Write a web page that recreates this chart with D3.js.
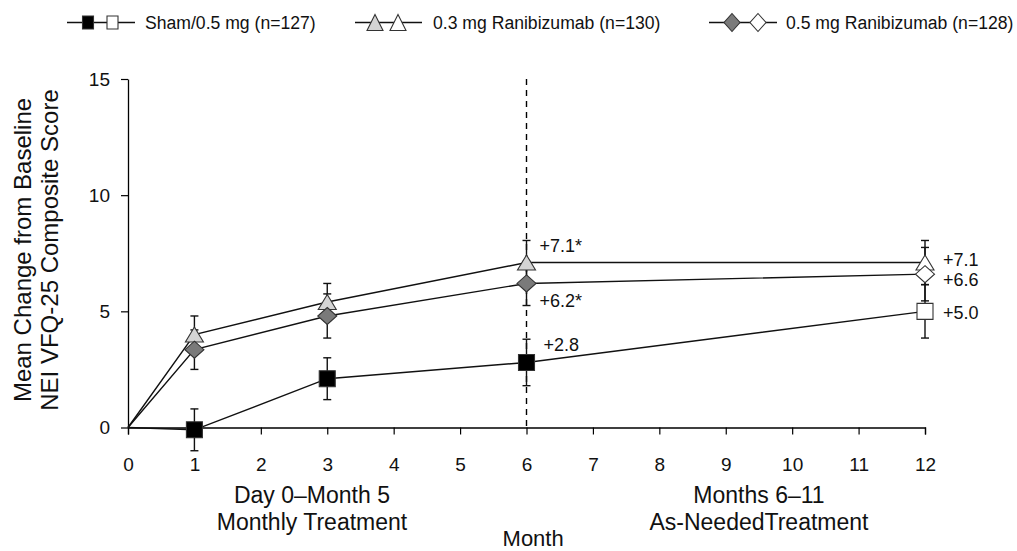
<!DOCTYPE html>
<html>
<head>
<meta charset="utf-8">
<script src="https://cdn.jsdelivr.net/npm/d3@7/dist/d3.min.js"></script>
<style>
  html, body { margin: 0; padding: 0; background: #fff; }
  svg { display: block; font-family: "Liberation Sans", Arial, sans-serif; }
</style>
</head>
<body>
<svg id="chart" width="1017" height="551"></svg>
<script>
// ---------------- data ----------------
const months = [0, 1, 3, 6, 12];
const xTicks = [0, 1, 2, 3, 4, 5, 6, 7, 8, 9, 10, 11, 12];
const yTicks = [0, 5, 10, 15];

const shamMean = [0, -0.1, 2.1, 2.8, 5.0];
const shamErr  = [0, 0.9, 0.9, 1.0, 1.15];
const low03Mean = [0, 4.0, 5.4, 7.1, 7.1];
const low03Err  = [0, 0.8, 0.8, 0.95, 0.95];
const high05Mean = [0, 3.35, 4.8, 6.2, 6.6];
const high05Err  = [0, 0.85, 0.95, 0.95, 1.15];

const seriesNames = ["Sham/0.5 mg (n=127)", "0.3 mg Ranibizumab (n=130)", "0.5 mg Ranibizumab (n=128)"];

const annotations = [
  { m: 6, v: 7.1, text: "+7.1*" },
  { m: 6, v: 6.2, text: "+6.2*" },
  { m: 6, v: 2.8, text: "+2.8" },
  { m: 12, v: 7.1, text: "+7.1" },
  { m: 12, v: 6.6, text: "+6.6" },
  { m: 12, v: 5.0, text: "+5.0" }
];
// label offsets (pixels) for each annotation, same order
const annotationOffsets = [[13, -17], [13, 17], [17, -18], [18, -3], [18, 6], [18, 1]];

// ---------------- layout ----------------
const svg = d3.select("#chart");
const x = d3.scaleLinear().domain([0, 12]).range([128, 925]);
const y = d3.scaleLinear().domain([0, 15]).range([427.5, 79]);

const series = [
  { name: seriesNames[0], mean: shamMean, err: shamErr, shape: "square", fill: "#000000" },
  { name: seriesNames[1], mean: low03Mean, err: low03Err, shape: "triangle", fill: "#d4d4d4" },
  { name: seriesNames[2], mean: high05Mean, err: high05Err, shape: "diamond", fill: "#7a7a7a" }
];

function shapePath(shape, w, h) {
  if (shape === "square") return `M${-w/2},${-h/2}H${w/2}V${h/2}H${-w/2}Z`;
  if (shape === "triangle") return `M0,${-h/2}L${w/2},${h/2}L${-w/2},${h/2}Z`;
  return `M0,${-h/2}L${w/2},0L0,${h/2}L${-w/2},0Z`;
}
const markerSize = { square: [16, 16], triangle: [18, 15], diamond: [19, 17] };
const legendSize = { square: [11, 13], triangle: [16, 16], diamond: [16, 18] };

// ---------------- axes ----------------
const xAxis = d3.axisBottom(x).tickValues(xTicks).tickSize(7).tickPadding(23).tickFormat(d3.format("d"));
const gx = svg.append("g").attr("transform", `translate(0,${y(0)})`).call(xAxis);
gx.select(".domain").attr("stroke", "#000").attr("stroke-width", 1.3);
gx.selectAll(".tick line").attr("stroke", "#000").attr("stroke-width", 1.2);
gx.selectAll(".tick text").attr("font-size", 19).attr("fill", "#111").attr("font-family", "Liberation Sans, Arial, sans-serif");

const yAxis = d3.axisLeft(y).tickValues(yTicks).tickSize(7).tickPadding(11).tickSizeOuter(0);
const gy = svg.append("g").attr("transform", `translate(${x(0)},0)`).call(yAxis);
gy.select(".domain").attr("stroke", "#000").attr("stroke-width", 1.3);
gy.selectAll(".tick line").attr("stroke", "#000").attr("stroke-width", 1.2);
gy.selectAll(".tick text").attr("font-size", 19).attr("fill", "#111").attr("font-family", "Liberation Sans, Arial, sans-serif");

// dashed divider at month 6
svg.append("line")
  .attr("x1", x(6)).attr("x2", x(6))
  .attr("y1", y(15)).attr("y2", y(0))
  .attr("stroke", "#000").attr("stroke-width", 1.4)
  .attr("stroke-dasharray", "6,5");

// ---------------- series ----------------
const line = d3.line().x((d, i) => x(months[i])).y(d => y(d));

series.forEach(s => {
  const g = svg.append("g");
  months.forEach((m, i) => {
    if (i === 0) return;
    const lo = y(s.mean[i] - s.err[i]), hi = y(s.mean[i] + s.err[i]);
    g.append("line").attr("x1", x(m)).attr("x2", x(m)).attr("y1", lo).attr("y2", hi)
      .attr("stroke", "#111").attr("stroke-width", 1.4);
    [lo, hi].forEach(yy => g.append("line").attr("x1", x(m) - 4).attr("x2", x(m) + 4)
      .attr("y1", yy).attr("y2", yy).attr("stroke", "#111").attr("stroke-width", 1.4));
  });
});

series.forEach(s => {
  svg.append("path").datum(s.mean).attr("d", line)
    .attr("fill", "none").attr("stroke", "#111").attr("stroke-width", 1.4);
});

series.forEach(s => {
  const [w, h] = markerSize[s.shape];
  months.forEach((m, i) => {
    if (i === 0) return;
    const open = m === 12;
    svg.append("path")
      .attr("d", shapePath(s.shape, w, h))
      .attr("transform", `translate(${x(m)},${y(s.mean[i])})`)
      .attr("fill", open ? "#ffffff" : s.fill)
      .attr("stroke", "#333").attr("stroke-width", 1.1);
  });
});

// ---------------- annotations ----------------
annotations.forEach((a, i) => {
  const [dx, dy] = annotationOffsets[i];
  svg.append("text")
    .attr("x", x(a.m) + dx)
    .attr("y", y(a.v) + dy)
    .attr("dy", "0.35em")
    .attr("font-size", 18)
    .attr("fill", "#111")
    .text(a.text);
});

// ---------------- axis titles ----------------
const yTitle = svg.append("text")
  .attr("transform", "translate(0,250) rotate(-90)")
  .attr("text-anchor", "middle")
  .attr("font-size", 24).attr("fill", "#111");
yTitle.append("tspan").attr("x", 0).attr("y", 31).text("Mean Change from Baseline");
yTitle.append("tspan").attr("x", 0).attr("y", 58).text("NEI VFQ-25 Composite Score");

const phaseLabels = [
  { cx: x(2.77), lines: ["Day 0\u2013Month 5", "Monthly Treatment"] },
  { cx: x(9.5), lines: ["Months 6\u201311", "As-NeededTreatment"] }
];
phaseLabels.forEach(p => {
  p.lines.forEach((t, j) => {
    svg.append("text").attr("x", p.cx).attr("y", 503 + j * 27)
      .attr("text-anchor", "middle").attr("font-size", 23).attr("fill", "#111").text(t);
  });
});
svg.append("text").attr("x", x(6.1)).attr("y", 546)
  .attr("text-anchor", "middle").attr("font-size", 22).attr("fill", "#111").text("Month");

// ---------------- legend ----------------
const legendItems = [
  { s: series[0], x1: 67, x2: 135, m1: 88, m2: 112.5, tx: 145 },
  { s: series[1], x1: 355, x2: 422, m1: 375, m2: 398, tx: 433 },
  { s: series[2], x1: 709, x2: 777, m1: 732, m2: 758, tx: 786 }
];
const ly = 22.5;
legendItems.forEach(li => {
  const g = svg.append("g");
  g.append("line").attr("x1", li.x1).attr("x2", li.x2).attr("y1", ly).attr("y2", ly)
    .attr("stroke", "#111").attr("stroke-width", 1.4);
  const [w, h] = legendSize[li.s.shape];
  g.append("path").attr("d", shapePath(li.s.shape, w, h))
    .attr("transform", `translate(${li.m1},${ly})`).attr("fill", li.s.fill)
    .attr("stroke", "#333").attr("stroke-width", 1.1);
  g.append("path").attr("d", shapePath(li.s.shape, w, h))
    .attr("transform", `translate(${li.m2},${ly})`).attr("fill", "#fff")
    .attr("stroke", "#333").attr("stroke-width", 1.1);
  g.append("text").attr("x", li.tx).attr("y", ly).attr("dy", "0.35em")
    .attr("font-size", 17.6).attr("fill", "#111").text(li.s.name);
});
</script>
</body>
</html>
